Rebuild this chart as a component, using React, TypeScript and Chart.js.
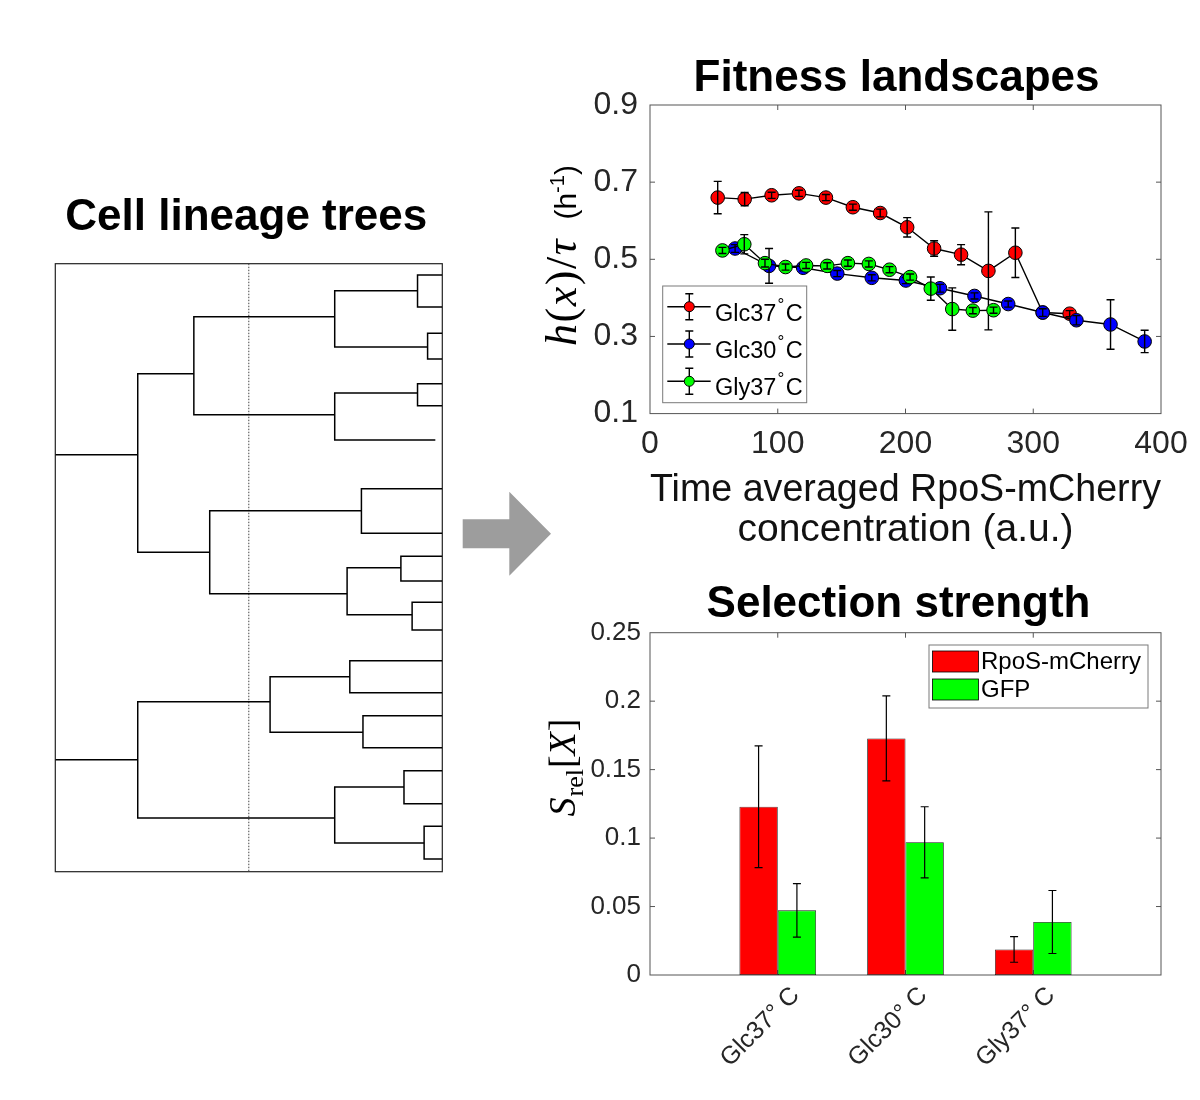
import React, { useEffect, useRef } from 'react';
import { Chart, registerables } from 'chart.js';

Chart.register(...registerables);

const SANS = '"Liberation Sans", Arial, Helvetica, sans-serif';
const SERIF = '"Liberation Serif", "Times New Roman", serif';
const RED = '#ff0000';
const GREEN = '#00ff00';
const BLUE = '#0000ff';
const AXIS = '#555555';
const TXT = '#262626';

Chart.defaults.font.family = SANS;
Chart.defaults.color = TXT;

// ---------- Fitness landscapes ----------
const glc37X = [53.0, 74.1, 95.2, 116.6, 137.7, 158.8, 180.2, 201.3, 222.4, 243.5, 264.9, 286.0, 307.4, 328.5];
const glc37Y = [0.660, 0.656, 0.666, 0.671, 0.660, 0.635, 0.620, 0.583, 0.528, 0.512, 0.470, 0.517, 0.362, 0.359];
const glc37Err = [0.042, 0.017, 0.008, 0.008, 0.008, 0.008, 0.010, 0.025, 0.020, 0.026, 0.153, 0.064, 0.008, 0.008];

const glc30X = [66.6, 93.2, 119.9, 146.6, 173.6, 200.3, 227.0, 254.0, 280.4, 307.4, 333.8, 360.5, 387.2];
const glc30Y = [0.528, 0.483, 0.478, 0.463, 0.452, 0.445, 0.425, 0.405, 0.384, 0.362, 0.342, 0.331, 0.287];
const glc30Err = [0.010, 0.045, 0.008, 0.008, 0.008, 0.008, 0.010, 0.008, 0.008, 0.010, 0.012, 0.064, 0.029];

const gly37X = [56.7, 73.8, 90.0, 106.1, 122.2, 138.7, 154.9, 171.3, 187.5, 203.6, 219.8, 236.6, 252.7, 268.9];
const gly37Y = [0.523, 0.539, 0.490, 0.480, 0.484, 0.483, 0.490, 0.488, 0.473, 0.454, 0.424, 0.371, 0.367, 0.368];
const gly37Err = [0.008, 0.025, 0.010, 0.008, 0.008, 0.008, 0.008, 0.008, 0.008, 0.008, 0.030, 0.055, 0.008, 0.008];

const lineLabels = ['Glc37°C', 'Glc30°C', 'Gly37°C'];
const lineColors = [RED, BLUE, GREEN];
const lineXTicks = [0, 100, 200, 300, 400];
const lineYTicks = [0.1, 0.3, 0.5, 0.7, 0.9];

// ---------- Selection strength ----------
const barCategories = ['Glc37° C', 'Glc30° C', 'Gly37° C'];
const rposValues = [0.1229, 0.1728, 0.0187];
const rposErr = [0.0445, 0.031, 0.0094];
const gfpValues = [0.0472, 0.0969, 0.0387];
const gfpErr = [0.0195, 0.026, 0.023];
const barLabels = ['RpoS-mCherry', 'GFP'];
const barYTicks = [0, 0.05, 0.1, 0.15, 0.2, 0.25];

// ---------- Cell lineage trees (dendrogram) ----------
// [merge distance, upper child y, lower child y, upper child end, lower child end]
const treeLinks = [
  [0.213, 0.1809, 0.4747, 0.358, 0.399],
  [0.358, 0.0872, 0.2484, 0.722, 0.722],
  [0.722, 0.0444, 0.1370, 0.936, 0.962],
  [0.936, 0.0186, 0.0712, 1, 1],
  [0.962, 0.1145, 0.1567, 1, 1],
  [0.722, 0.2127, 0.2900, 0.936, 0.982],
  [0.936, 0.1974, 0.2336, 1, 1],
  [0.399, 0.4062, 0.5428, 0.791, 0.754],
  [0.791, 0.3701, 0.4434, 1, 1],
  [0.754, 0.5000, 0.5773, 0.893, 0.922],
  [0.893, 0.4813, 0.5219, 1, 1],
  [0.922, 0.5569, 0.6025, 1, 1],
  [0.213, 0.7204, 0.9117, 0.555, 0.722],
  [0.555, 0.6793, 0.7707, 0.761, 0.795],
  [0.761, 0.6530, 0.7056, 1, 1],
  [0.795, 0.7434, 0.7961, 1, 1],
  [0.722, 0.8607, 0.9528, 0.901, 0.953],
  [0.901, 0.8339, 0.8882, 1, 1],
  [0.953, 0.9253, 0.9791, 1, 1],
];
// [y, merge distance] of each tree root
const treeRoots = [
  [0.3141, 0.213],
  [0.8158, 0.213],
];
const treeCut = 0.5;

const TITLE_FONT = `bold 44px ${SANS}`;

// ---------- plugins ----------
function makeTitle(text: string, dx: number, baselineAboveArea: number) {
  return {
    id: 'panelTitle',
    afterDraw(chart: any) {
      const { ctx, chartArea: a } = chart;
      ctx.save();
      ctx.font = TITLE_FONT;
      ctx.fillStyle = '#000';
      ctx.textAlign = 'center';
      ctx.textBaseline = 'alphabetic';
      ctx.fillText(text, (a.left + a.right) / 2 + dx, a.top - baselineAboveArea);
      ctx.restore();
    },
  };
}

function makeBoxPlugin(color: string, lineWidth: number, tickLength: number) {
  return {
    id: 'axesBox',
    beforeDatasetsDraw(chart: any) {
      const { ctx, chartArea: a } = chart;
      ctx.save();
      ctx.strokeStyle = color;
      ctx.lineWidth = lineWidth;
      ctx.strokeRect(a.left, a.top, a.right - a.left, a.bottom - a.top);
      if (tickLength > 0) {
        ctx.beginPath();
        const sx = chart.scales.x;
        const sy = chart.scales.y;
        for (const t of sx.ticks) {
          const p = sx.getPixelForValue(t.value);
          if (p <= a.left + 1 || p >= a.right - 1) continue;
          ctx.moveTo(p, a.bottom);
          ctx.lineTo(p, a.bottom - tickLength);
          ctx.moveTo(p, a.top);
          ctx.lineTo(p, a.top + tickLength);
        }
        for (const t of sy.ticks) {
          const p = sy.getPixelForValue(t.value);
          if (p <= a.top + 1 || p >= a.bottom - 1) continue;
          ctx.moveTo(a.left, p);
          ctx.lineTo(a.left + tickLength, p);
          ctx.moveTo(a.right, p);
          ctx.lineTo(a.right - tickLength, p);
        }
        ctx.stroke();
      }
      ctx.restore();
    },
  };
}

type Piece = { text: string; font: string; dy?: number; gap?: number };

function makeRotatedTitle(pieces: Piece[], dxFromLeft: number, dyFromTop: number) {
  return {
    id: 'richYTitle',
    afterDraw(chart: any) {
      const { ctx, chartArea: a } = chart;
      ctx.save();
      ctx.translate(a.left - dxFromLeft, a.top + dyFromTop);
      ctx.rotate(-Math.PI / 2);
      ctx.textBaseline = 'alphabetic';
      ctx.textAlign = 'left';
      ctx.fillStyle = '#000';
      const widths = pieces.map((p) => {
        ctx.font = p.font;
        return ctx.measureText(p.text).width + (p.gap || 0);
      });
      const total = widths.reduce((s, w) => s + w, 0);
      let x = -total / 2;
      pieces.forEach((p, i) => {
        ctx.font = p.font;
        ctx.fillText(p.text, x, p.dy || 0);
        x += widths[i];
      });
      ctx.restore();
    },
  };
}

function makeLineErrorBars(errs: number[][]) {
  return {
    id: 'lineErrorBars',
    afterDatasetDraw(chart: any, args: any) {
      const err = errs[args.index];
      if (!err) return;
      const { ctx } = chart;
      const ys = chart.scales.y;
      const ds = chart.data.datasets[args.index];
      ctx.save();
      ctx.strokeStyle = '#000';
      ctx.lineWidth = 1.4;
      ctx.beginPath();
      args.meta.data.forEach((pt: any, i: number) => {
        const v = ds.data[i].y;
        const y1 = ys.getPixelForValue(v + err[i]);
        const y2 = ys.getPixelForValue(v - err[i]);
        const x = pt.x;
        ctx.moveTo(x, y1);
        ctx.lineTo(x, y2);
        ctx.moveTo(x - 4, y1);
        ctx.lineTo(x + 4, y1);
        ctx.moveTo(x - 4, y2);
        ctx.lineTo(x + 4, y2);
      });
      ctx.stroke();
      ctx.restore();
    },
  };
}

function makeLineLegend() {
  return {
    id: 'lineLegend',
    afterDraw(chart: any) {
      const { ctx, chartArea: a } = chart;
      const bx = a.left + 12.7;
      const by = a.top + 181;
      const bw = 144;
      const bh = 116.7;
      ctx.save();
      ctx.fillStyle = '#fff';
      ctx.fillRect(bx, by, bw, bh);
      ctx.strokeStyle = '#7a7a7a';
      ctx.lineWidth = 1;
      ctx.strokeRect(bx, by, bw, bh);
      const rows = [20.7, 58, 95.3];
      lineLabels.forEach((label, i) => {
        const ry = by + rows[i];
        const cx = bx + 26.6;
        ctx.strokeStyle = '#000';
        ctx.lineWidth = 1.4;
        ctx.beginPath();
        ctx.moveTo(bx + 4.6, ry);
        ctx.lineTo(bx + 48, ry);
        ctx.moveTo(cx, ry - 13);
        ctx.lineTo(cx, ry + 13);
        ctx.moveTo(cx - 4, ry - 13);
        ctx.lineTo(cx + 4, ry - 13);
        ctx.moveTo(cx - 4, ry + 13);
        ctx.lineTo(cx + 4, ry + 13);
        ctx.stroke();
        ctx.beginPath();
        ctx.arc(cx, ry, 5, 0, Math.PI * 2);
        ctx.fillStyle = lineColors[i];
        ctx.fill();
        ctx.lineWidth = 1;
        ctx.stroke();
        const [name, unit] = label.split('°');
        ctx.fillStyle = '#000';
        ctx.textBaseline = 'alphabetic';
        ctx.textAlign = 'left';
        let tx = bx + 52.3;
        ctx.font = `23.5px ${SANS}`;
        ctx.fillText(name, tx, ry + 14);
        tx += ctx.measureText(name).width + 1;
        ctx.font = `17px ${SANS}`;
        ctx.fillText('°', tx, ry + 2.8);
        tx += ctx.measureText('°').width + 1.5;
        ctx.font = `23.5px ${SANS}`;
        ctx.fillText(unit, tx, ry + 14);
      });
      ctx.restore();
    },
  };
}

function makeBarErrorBars(errs: number[][]) {
  return {
    id: 'barErrorBars',
    afterDatasetsDraw(chart: any) {
      const { ctx } = chart;
      const ys = chart.scales.y;
      ctx.save();
      ctx.strokeStyle = '#000';
      ctx.lineWidth = 1.2;
      ctx.beginPath();
      chart.data.datasets.forEach((ds: any, di: number) => {
        const meta = chart.getDatasetMeta(di);
        meta.data.forEach((bar: any, i: number) => {
          const v = ds.data[i].y;
          const e = errs[di][i];
          const y1 = ys.getPixelForValue(v + e);
          const y2 = ys.getPixelForValue(v - e);
          const x = bar.x;
          ctx.moveTo(x, y1);
          ctx.lineTo(x, y2);
          ctx.moveTo(x - 4, y1);
          ctx.lineTo(x + 4, y1);
          ctx.moveTo(x - 4, y2);
          ctx.lineTo(x + 4, y2);
        });
      });
      ctx.stroke();
      ctx.restore();
    },
  };
}

function makeBarLegend() {
  return {
    id: 'barLegend',
    afterDraw(chart: any) {
      const { ctx, chartArea: a } = chart;
      const bx = a.left + 279;
      const by = a.top + 12.3;
      const bw = 219;
      const bh = 63;
      ctx.save();
      ctx.fillStyle = '#fff';
      ctx.fillRect(bx, by, bw, bh);
      ctx.strokeStyle = '#7a7a7a';
      ctx.lineWidth = 1;
      ctx.strokeRect(bx, by, bw, bh);
      const colors = [RED, GREEN];
      const swTop = [6, 34];
      const baselines = [24.3, 52.3];
      barLabels.forEach((label, i) => {
        ctx.fillStyle = colors[i];
        ctx.fillRect(bx + 3.5, by + swTop[i], 46, 21);
        ctx.strokeStyle = '#000';
        ctx.lineWidth = 0.8;
        ctx.strokeRect(bx + 3.5, by + swTop[i], 46, 21);
        ctx.fillStyle = '#000';
        ctx.font = `24px ${SANS}`;
        ctx.textBaseline = 'alphabetic';
        ctx.textAlign = 'left';
        ctx.fillText(label, bx + 52, by + baselines[i]);
      });
      ctx.restore();
    },
  };
}

function makeTreeDecor() {
  return {
    id: 'treeDecor',
    beforeDatasetsDraw(chart: any) {
      const { ctx, chartArea: a } = chart;
      ctx.save();
      ctx.strokeStyle = '#222';
      ctx.lineWidth = 1.2;
      ctx.strokeRect(a.left, a.top, a.right - a.left, a.bottom - a.top);
      ctx.restore();
    },
    afterDraw(chart: any) {
      // grey arrow pointing to the panels on the right
      const { ctx, chartArea: a } = chart;
      const x0 = a.right + 20.4;
      const xm = a.right + 67;
      const xt = a.right + 108.7;
      ctx.save();
      ctx.fillStyle = '#9d9d9d';
      ctx.beginPath();
      ctx.moveTo(x0, 519.3);
      ctx.lineTo(xm, 519.3);
      ctx.lineTo(xm, 491.7);
      ctx.lineTo(xt, 533.7);
      ctx.lineTo(xm, 575.7);
      ctx.lineTo(xm, 548.3);
      ctx.lineTo(x0, 548.3);
      ctx.closePath();
      ctx.fill();
      ctx.restore();
    },
  };
}

// ---------- configs ----------
function lineConfig(): any {
  const xs = [glc37X, glc30X, gly37X];
  const ys = [glc37Y, glc30Y, gly37Y];
  const datasets = lineLabels.map((label, i) => ({
    label,
    data: xs[i].map((x, j) => ({ x, y: ys[i][j] })),
    borderColor: '#000',
    borderWidth: 1.4,
    backgroundColor: lineColors[i],
    pointBackgroundColor: lineColors[i],
    pointBorderColor: '#000',
    pointBorderWidth: 1,
    pointRadius: 6.8,
    tension: 0,
    fill: false,
    order: 3 - i,
  }));
  return {
    type: 'line',
    data: { datasets },
    options: {
      animation: false,
      responsive: false,
      events: [],
      layout: { padding: { left: 0, right: 39, top: 105, bottom: 0 } },
      plugins: {
        legend: { display: false },
        tooltip: { enabled: false },
        title: { display: false },
      },
      scales: {
        x: {
          type: 'linear',
          min: 0,
          max: 400,
          grid: { display: false, drawTicks: false },
          border: { display: false },
          afterBuildTicks: (s: any) => {
            s.ticks = lineXTicks.map((v) => ({ value: v }));
          },
          afterFit: (s: any) => {
            s.height = 146.4;
          },
          ticks: { font: { size: 32 }, padding: 11, maxRotation: 0, autoSkip: false, color: TXT, callback: (v: any) => String(v) },
          title: {
            display: true,
            text: ['Time averaged RpoS-mCherry', 'concentration (a.u.)'],
            color: '#111',
            font: { size: 39, lineHeight: 1.04 },
            padding: { top: 0, bottom: 9 },
          },
        },
        y: {
          type: 'linear',
          min: 0.1,
          max: 0.9,
          grid: { display: false, drawTicks: false },
          border: { display: false },
          afterBuildTicks: (s: any) => {
            s.ticks = lineYTicks.map((v) => ({ value: v }));
          },
          afterFit: (s: any) => {
            s.width = 110;
          },
          ticks: { font: { size: 32 }, padding: 12, autoSkip: false, color: TXT, callback: (v: any) => String(v) },
        },
      },
    },
    plugins: [
      makeBoxPlugin(AXIS, 1, 5),
      makeLineErrorBars([glc37Err, glc30Err, gly37Err]),
      makeLineLegend(),
      makeTitle('Fitness landscapes', -9, 14.3),
      makeRotatedTitle(
        [
          { text: 'h', font: `italic 44px ${SERIF}`, gap: 1.5 },
          { text: '(', font: `44px ${SERIF}`, gap: 1.5 },
          { text: 'x', font: `italic 44px ${SERIF}`, gap: 1.5 },
          { text: ')', font: `44px ${SERIF}`, gap: 1.5 },
          { text: '/', font: `44px ${SERIF}`, gap: 1.5 },
          { text: 'τ', font: `italic 44px ${SERIF}`, gap: 20 },
          { text: '(h', font: `30px ${SANS}` },
          { text: '-1', font: `20px ${SANS}`, dy: -12 },
          { text: ')', font: `30px ${SANS}` },
        ],
        74,
        150.5
      ),
    ],
  };
}

function barConfig(): any {
  return {
    type: 'bar',
    data: {
      datasets: [
        {
          label: barLabels[0],
          data: barCategories.map((_, i) => ({ x: i + 1, y: rposValues[i] })),
          backgroundColor: RED,
          borderColor: '#1a1a1a',
          borderWidth: 0.8,
          borderSkipped: false,
          categoryPercentage: 0.6,
          barPercentage: 1,
        },
        {
          label: barLabels[1],
          data: barCategories.map((_, i) => ({ x: i + 1, y: gfpValues[i] })),
          backgroundColor: GREEN,
          borderColor: '#1a1a1a',
          borderWidth: 0.8,
          borderSkipped: false,
          categoryPercentage: 0.6,
          barPercentage: 1,
        },
      ],
    },
    options: {
      animation: false,
      responsive: false,
      events: [],
      layout: { padding: { left: 0, right: 39, top: 72.7, bottom: 0 } },
      plugins: {
        legend: { display: false },
        tooltip: { enabled: false },
        title: { display: false },
      },
      scales: {
        x: {
          type: 'linear',
          min: 0,
          max: 4,
          offset: false,
          grid: { display: false, drawTicks: false },
          border: { display: false },
          afterBuildTicks: (s: any) => {
            s.ticks = barCategories.map((_, i) => ({ value: i + 1 }));
          },
          afterFit: (s: any) => {
            s.height = 125;
          },
          ticks: {
            font: { size: 25 },
            color: TXT,
            padding: 6,
            labelOffset: 18,
            minRotation: 45,
            maxRotation: 45,
            autoSkip: false,
            callback: (v: any) => barCategories[Math.round(v) - 1] ?? '',
          },
        },
        y: {
          type: 'linear',
          min: 0,
          max: 0.25,
          grid: { display: false, drawTicks: false },
          border: { display: false },
          afterBuildTicks: (s: any) => {
            s.ticks = barYTicks.map((v) => ({ value: v }));
          },
          afterFit: (s: any) => {
            s.width = 110;
          },
          ticks: { font: { size: 26 }, padding: 9, autoSkip: false, color: TXT, callback: (v: any) => String(v) },
        },
      },
    },
    plugins: [
      makeBoxPlugin(AXIS, 1, 5),
      makeBarErrorBars([rposErr, gfpErr]),
      makeBarLegend(),
      makeTitle('Selection strength', -7, 15.4),
      makeRotatedTitle(
        [
          { text: 'S', font: `italic 38px ${SERIF}`, gap: 1 },
          { text: 'rel', font: `26px ${SERIF}`, dy: 8, gap: 1 },
          { text: '[', font: `38px ${SERIF}` },
          { text: 'X', font: `italic 38px ${SERIF}`, gap: 1 },
          { text: ']', font: `38px ${SERIF}` },
        ],
        75,
        134.8
      ),
    ],
  };
}

function treeConfig(): any {
  const datasets: any[] = [];
  const seg = (data: { x: number; y: number }[], extra: any = {}) => ({
    data,
    showLine: true,
    pointRadius: 0,
    borderColor: '#000',
    borderWidth: 1.5,
    fill: false,
    tension: 0,
    ...extra,
  });
  treeRoots.forEach(([y, m]) => {
    datasets.push(seg([{ x: 0, y }, { x: m, y }]));
  });
  treeLinks.forEach(([m, y1, y2, e1, e2]) => {
    datasets.push(
      seg([
        { x: e1, y: y1 },
        { x: m, y: y1 },
        { x: m, y: y2 },
        { x: e2, y: y2 },
      ])
    );
  });
  datasets.push(
    seg(
      [
        { x: treeCut, y: 0 },
        { x: treeCut, y: 1 },
      ],
      { borderColor: '#444', borderWidth: 1, borderDash: [1.5, 1.5] }
    )
  );
  return {
    type: 'scatter',
    data: { datasets },
    options: {
      animation: false,
      responsive: false,
      events: [],
      layout: { padding: { left: 55.3, right: 117.7, top: 263.7, bottom: 228.3 } },
      plugins: {
        legend: { display: false },
        tooltip: { enabled: false },
        title: { display: false },
      },
      scales: {
        x: { type: 'linear', min: 0, max: 1, display: false },
        y: { type: 'linear', min: 0, max: 1, reverse: true, display: false },
      },
    },
    plugins: [makeTreeDecor(), makeTitle('Cell lineage trees', -2.5, 33.7)],
  };
}

function ChartCanvas(props: { left: number; top: number; width: number; height: number; make: () => any }) {
  const ref = useRef<HTMLCanvasElement | null>(null);
  useEffect(() => {
    if (!ref.current) return;
    const chart = new Chart(ref.current, props.make());
    return () => chart.destroy();
  }, []);
  return (
    <canvas
      ref={ref}
      width={props.width}
      height={props.height}
      style={{ position: 'absolute', left: props.left, top: props.top, width: props.width, height: props.height }}
    />
  );
}

export default function App() {
  return (
    <div style={{ position: 'fixed', left: 0, top: 0, width: 1200, height: 1100, background: '#fff', overflow: 'hidden' }}>
      <ChartCanvas left={0} top={0} width={560} height={1100} make={treeConfig} />
      <ChartCanvas left={540} top={0} width={660} height={560} make={lineConfig} />
      <ChartCanvas left={540} top={560} width={660} height={540} make={barConfig} />
    </div>
  );
}
